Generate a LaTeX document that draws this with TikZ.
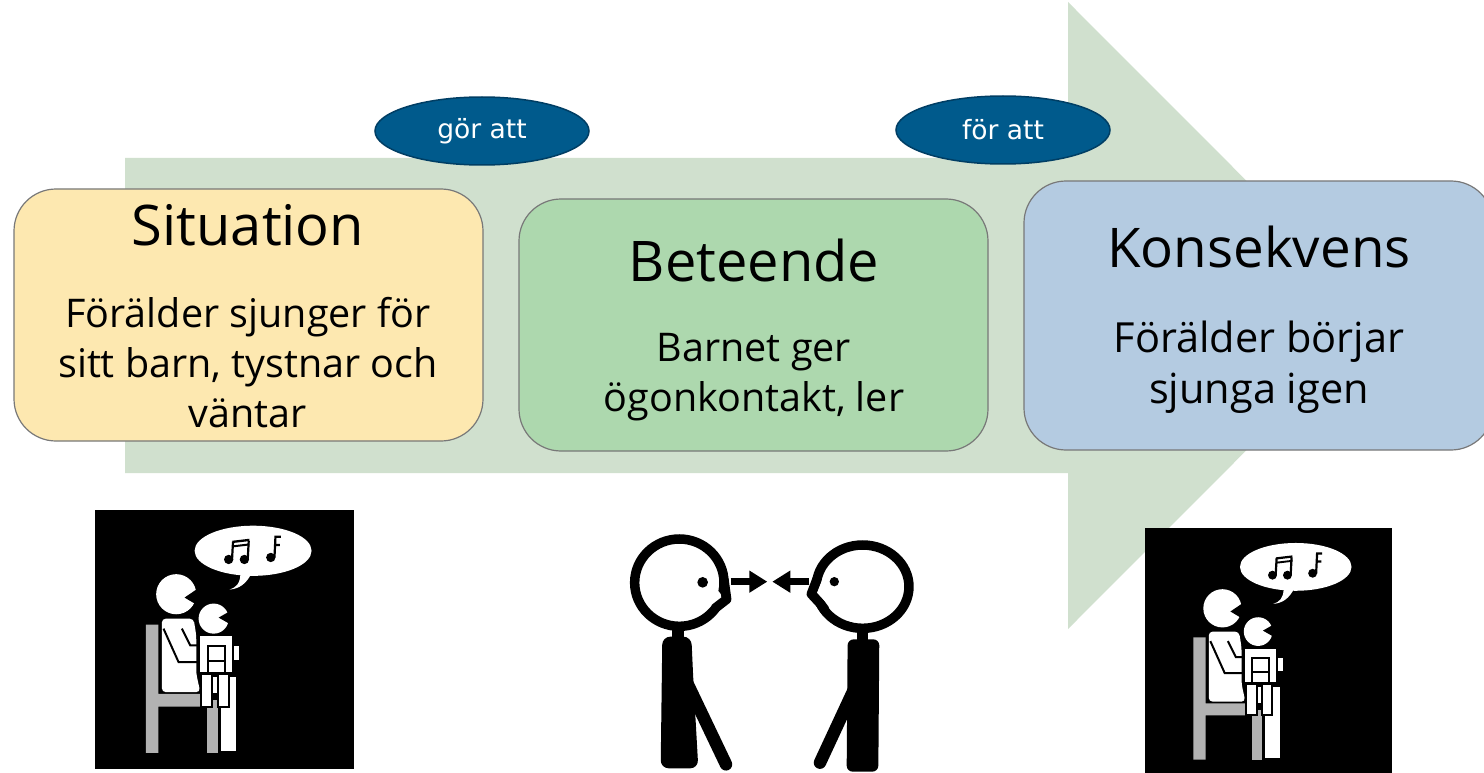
\documentclass[tikz,border=0pt]{standalone}
\usepackage{fontspec}
\setmainfont{Open Sans}
\newfontfamily\pillfont{DejaVu Sans}
\definecolor{flow_green}{RGB}{208, 224, 206}
\definecolor{card_yellow}{RGB}{253, 232, 176}
\definecolor{card_green}{RGB}{173, 216, 174}
\definecolor{card_blue}{RGB}{180, 203, 225}
\definecolor{card_edge}{RGB}{120, 120, 120}
\definecolor{pill_blue}{RGB}{0, 90, 140}
\definecolor{pill_edge}{RGB}{0, 62, 100}
\definecolor{chair_grey}{RGB}{178, 178, 178}
\usetikzlibrary{arrows.meta, positioning, shapes.geometric}
\tikzset{
  card/.style={draw=card_edge, line width=1.2pt, rounded corners=42pt,
               minimum width=469pt, inner sep=0pt},
  cardtitle/.style={font=\fontsize{56}{60}\selectfont, inner sep=0pt},
  cardbody/.style={font=\fontsize{39.5}{50}\selectfont, align=center, inner sep=0pt},
  pill/.style={ellipse, draw=pill_edge, fill=pill_blue, line width=1.5pt,
               minimum width=214pt, minimum height=68pt, inner sep=0pt,
               text=white, font=\pillfont\fontsize{26.5}{30}\selectfont},
  gaze/.style={line width=6.5pt, -{Triangle[length=18pt, width=21pt]}},
  tiny_px/.style={x=0.3333pt, y=-0.3333pt},
  limb/.style={black, line width=12.5pt, line cap=round},
  head_ring/.style={black, fill=white, line width=9.5pt},
  nose_line/.style={black, line width=9.5pt, line join=round, line cap=round},
  lap_line/.style={black, line width=2pt}
}
% pictogram of a parent singing with a child on the lap, local frame 775 x 775
\newcommand{\singerpic}{
  \fill[black] (0,0) rectangle (775,775);
  % speech bubble and notes
  \fill[white] (473,122) ellipse [x radius=175, y radius=75];
  \fill[white] (435,190) .. controls (435,220) and (422,232) .. (403,238)
    .. controls (430,236) and (452,222) .. (468,190) -- cycle;
  \fill[black] (400,148) circle [radius=14] (447,148) circle [radius=14]
    (526,142) circle [radius=14];
  \draw[black, line width=2.2pt] (410,148) -- (413,95) (457,148) -- (460,92);
  \fill[black] (411,92) -- (462,86) -- (462,93) -- (411,99) -- cycle;
  \fill[black] (411,106) -- (462,100) -- (462,106) -- (411,112) -- cycle;
  \draw[black, line width=2.2pt] (537,142) -- (540,80) -- (556,80)
    (538,105) -- (553,105);
  % chair
  \fill[chair_grey] (152,343) -- (190,343) -- (190,550) -- (315,550) -- (315,588)
    -- (190,588) -- (190,727) -- (152,727) -- cycle;
  \fill[chair_grey] (335,570) rectangle (368,727);
  % parent
  \fill[white] (243,252) circle [radius=60];
  \fill[black] (315,230) -- (268,262) -- (315,290) -- cycle;
  \fill[white, rounded corners=4pt] (200,325) -- (295,325) -- (303,375) -- (303,490)
    -- (315,545) -- (200,545) -- cycle;
  \draw[lap_line] (205,355) -- (250,455) -- (305,455)
    (260,355) -- (285,405) -- (305,405);
  \fill[white] (377,500) rectangle (422,722);
  % child
  \fill[white] (355,325) circle [radius=45];
  \fill[black] (405,302) -- (370,322) -- (405,342) -- cycle;
  \draw[lap_line, fill=white] (310,375) rectangle (413,487);
  \draw[lap_line] (337,487) -- (337,407) -- (390,407) -- (390,487) (337,453) -- (390,453);
  \fill[white] (417,408) rectangle (432,448);
  \fill[white] (353,500) rectangle (365,548);
  \draw[lap_line, fill=white] (318,490) rectangle (350,588);
  \draw[lap_line, fill=white] (368,490) rectangle (400,588);
}
\begin{document}
\begin{tikzpicture}[x=1pt, y=-1pt]
  \useasboundingbox (0,0) rectangle (1484,773);
  \clip (0,0) rectangle (1484,773);
  \fill[white] (0,0) rectangle (1484,773);
  % big arrow behind the cards
  \fill[flow_green] (125,158) -- (1068,158) -- (1068,2) -- (1381,315.5)
    -- (1068,629) -- (1068,473) -- (125,473) -- cycle;

  \node[card, fill=card_yellow, minimum height=252pt] (situation) at (248.5,315) {};
  \node[card, fill=card_green, minimum height=252pt] (beteende) at (753.5,325) {};
  \node[card, fill=card_blue, minimum height=269pt] (konsekvens) at (1258.5,315.5) {};

  \node[cardtitle] (situation_title) at (248,225) {Situation};
  \node[cardbody] (situation_text) at (248,363) {Förälder sjunger för\\sitt barn, tystnar och\\väntar};
  \node[cardtitle] (beteende_title) at (754,260) {Beteende};
  \node[cardbody] (beteende_text) at (754,377) {Barnet ger\\ögonkontakt, ler};
  \node[cardtitle, font=\fontsize{54.7}{60}\selectfont] (konsekvens_title) at (1259,247) {Konsekvens};
  \node[cardbody, font=\fontsize{41.5}{51}\selectfont] (konsekvens_text) at (1259,367) {Förälder börjar\\sjunga igen};

  \node[pill] (gor_att) at (482,131) {gör att};
  \node[pill] (for_att) at (1003,130) {för att};

  % pictograms
  \begin{scope}[shift={(95,510)}, x=0.3342pt, y=-0.3342pt]
    \singerpic
  \end{scope}
  \begin{scope}[shift={(1145,528)}, x=0.3187pt, y=-0.3187pt]
    \singerpic
  \end{scope}

  % two people looking at each other
  \begin{scope}[shift={(620,520)}, tiny_px]
    % left person
    \draw[limb] (202,490) -- (318,733);
    \fill[black] (157,320) rectangle (192,370);
    \fill[black, rounded corners=8pt] (127,350) -- (214,350) -- (220,480) -- (235,745)
      -- (122,745) -- cycle;
    \draw[head_ring] (178,188) ellipse [x radius=134, y radius=131];
    \fill[white] (285,200) -- (302,222) -- (305,235) -- (270,262) -- (255,240) -- cycle;
    \draw[nose_line] (312,180) -- (320,238) -- (285,265);
    \fill[black] (248,187) circle [radius=16];
    % right person
    \draw[limb] (706,500) -- (600,728);
    \fill[black] (712,320) rectangle (745,370);
    \fill[black, rounded corners=6pt] (683,358) -- (778,358) -- (775,755)
      -- (680,755) -- cycle;
    \draw[head_ring] (728,200) ellipse [x radius=139, y radius=125];
    \fill[white] (610,170) -- (590,218) -- (615,245) -- (640,240) -- cycle;
    \draw[nose_line] (591,178) -- (574,222) -- (600,250) -- (614,268);
    \fill[black] (643,185) circle [radius=14];
    % gaze arrows
    \coordinate (eye_left) at (332,185);
    \coordinate (meet_left) at (442,185);
    \coordinate (eye_right) at (568,185);
    \coordinate (meet_right) at (457,185);
    \draw[gaze] (eye_left) -- (meet_left);
    \draw[gaze] (eye_right) -- (meet_right);
  \end{scope}
\end{tikzpicture}
\end{document}
